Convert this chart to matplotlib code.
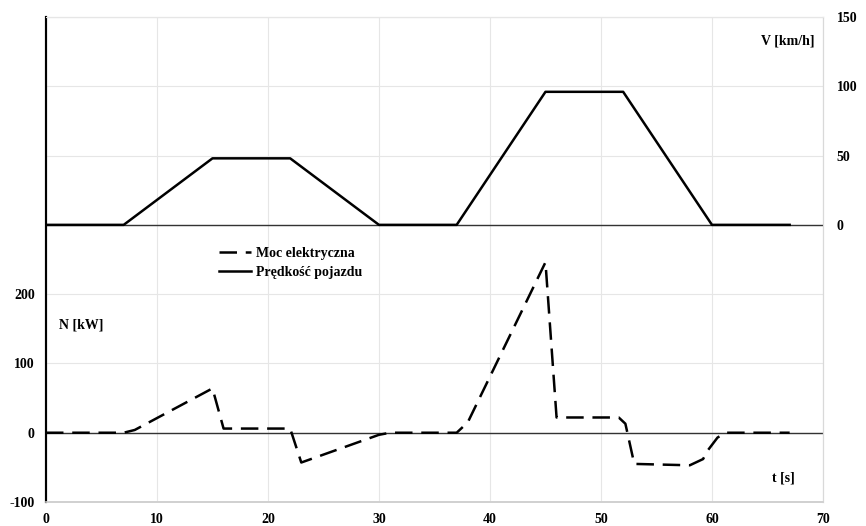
import matplotlib
matplotlib.use('Agg')
import matplotlib.pyplot as plt

# przebieg predkosci pojazdu V [km/h]
t_v = [0, 7, 15, 22, 30, 37, 45, 52, 60, 67]
v = [0, 0, 48, 48, 0, 0, 96, 96, 0, 0]

# moc elektryczna N [kW]
t_n = [0, 7, 8, 15, 16, 22, 23, 30, 31, 37, 38, 45, 46, 51.6, 52.2, 53, 58, 59.2, 59.6, 60.5, 61.2, 67]
n = [0, 0, 4, 64, 6, 6, -43, -3, 0, 0, 15, 246, 22, 22, 13, -45, -47, -38, -26, -7, 0, 0]

n_ticks = [-100, 0, 100, 200, 300, 400, 500, 600]
n_labels = ['-100', '0', '100', '200', '', '', '', '']
v_ticks = [0, 50, 100, 150]
x_ticks = [0, 10, 20, 30, 40, 50, 60, 70]

plt.rcParams['font.family'] = ['Liberation Serif', 'DejaVu Serif']
plt.rcParams['font.weight'] = 'bold'
plt.rcParams['font.size'] = 10

fig = plt.figure(figsize=(8.66, 5.26), dpi=100)
ax = fig.add_axes([0.0531, 0.0456, 0.8972, 0.9221])
ax2 = ax.twinx()

grid_c = '#e6e6e6'
ax.set_xlim(0, 70)
ax.set_ylim(-100, 600)
ax2.set_ylim(-200, 150)

ax.set_xticks(x_ticks)
ax.set_yticks(n_ticks)
ax.set_yticklabels(n_labels)
ax2.set_yticks(v_ticks)
ax.grid(True, color=grid_c, lw=0.8)
ax.set_axisbelow(True)

ax.tick_params(axis='both', length=0, labelsize=10)
ax.tick_params(axis='x', pad=8)
ax.tick_params(axis='y', pad=8)
ax2.tick_params(axis='y', length=0, pad=10, labelsize=10)
for lab in ax.get_xticklabels() + ax.get_yticklabels() + ax2.get_yticklabels():
    lab.set_fontweight('bold')

for a in (ax, ax2):
    a.spines['left'].set_color('black')
    a.spines['left'].set_linewidth(1.5)
    a.spines['bottom'].set_color('#d0d0d0')
    a.spines['bottom'].set_linewidth(1.2)
    a.spines['right'].set_color('#d9d9d9')
    a.spines['top'].set_color(grid_c)

ax.axhline(0, color='#333333', lw=1)
ax2.axhline(0, color='#333333', lw=1)

l1, = ax.plot(t_n, n, color='black', lw=1.8, linestyle=(0, (7, 3.5)), label='Moc elektryczna')
l2, = ax2.plot(t_v, v, color='black', lw=1.8, label='Prędkość pojazdu')

ax.text(66.8, 565, 'V [km/h]', ha='center', va='center', fontweight='bold')
ax.text(3.2, 155, 'N [kW]', ha='center', va='center', fontweight='bold')
ax.text(66.4, -65, 't [s]', ha='center', va='center', fontweight='bold')

leg = ax2.legend(handles=[l1, l2], loc='upper left', bbox_to_anchor=(212 / 866, 1 - 240 / 526),
                 bbox_transform=fig.transFigure, frameon=False, handlelength=2.3,
                 handletextpad=0.35, labelspacing=0.45, borderpad=0,
                 prop={'weight': 'bold', 'size': 10})

fig.savefig('out.png', dpi=100)
